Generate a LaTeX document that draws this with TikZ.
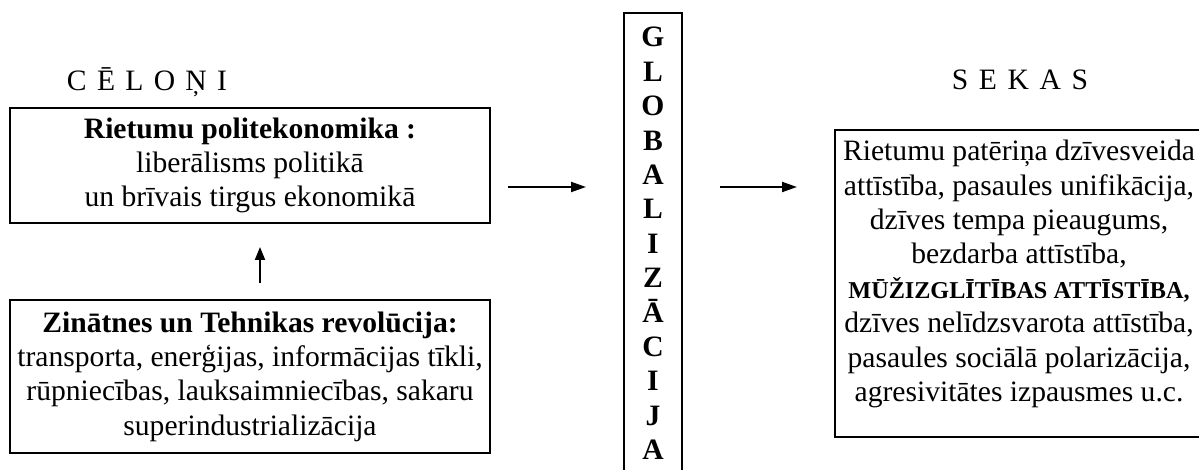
\documentclass[tikz,border=0pt]{standalone}
\usepackage{fontspec}
\setmainfont{Liberation Serif}
\usetikzlibrary{arrows.meta}
\begin{document}
\begin{tikzpicture}[x=0.5pt,y=-0.5pt,
  every node/.style={font=\fontsize{14.8}{17.2}\selectfont, inner sep=0pt},
  frame/.style={draw, line width=1pt},
  title/.style={anchor=base},
  arr/.style={line width=1pt, -{Triangle[length=7.5pt,width=5pt]}},
  uparr/.style={line width=1pt, -{Triangle[length=6.5pt,width=5pt]}},
  vert/.style={align=center, font=\fontsize{14.8}{17.2}\selectfont\bfseries},
  small caps bold/.style={},
]
\useasboundingbox (0,0) rectangle (1199,470);
\clip (0,0) rectangle (1199,470);

% titles
\node[title] (celoni) at (147,91) {C\hspace{5.15pt}Ē\hspace{5.15pt}L\hspace{5.15pt}O\hspace{5.15pt}Ņ\hspace{5.15pt}I};
\node[title] (sekas) at (1020,90) {S\hspace{5.3pt}E\hspace{5.3pt}K\hspace{5.3pt}A\hspace{5.3pt}S};

% left boxes
\node[frame, minimum width=240pt, minimum height=57.5pt, align=center] (pol) at (250,165.5)
  {\textbf{Rietumu politekonomika :}\\ liberālisms politikā\\ un brīvais tirgus ekonomikā};
\node[frame, minimum width=240pt, minimum height=76.5pt, align=center] (zin) at (250,376.5)
  {\textbf{Zinātnes un Tehnikas revolūcija:}\\ transporta, enerģijas, informācijas tīkli,\\ rūpniecības, lauksaimniecības, sakaru\\ superindustrializācija};

% centre column
\node[frame, minimum width=29pt, minimum height=233.5pt] (glob) at (653,246.5) {};
\node[vert] (globtxt) at (653,243.5) {G\\L\\O\\B\\A\\L\\I\\Z\\Ā\\C\\I\\J\\A};

% right box
\node[frame, minimum width=187.5pt, minimum height=153.5pt] (sekbox) at (1022.5,283.5) {};
\node[align=center] (sektxt) at (1019,274)
  {Rietumu patēriņa dzīvesveida\\ attīstība, pasaules unifikācija,\\ dzīves tempa pieaugums,\\ bezdarba attīstība,\\
   {\fontsize{12.1}{17.2}\selectfont\bfseries MŪŽIZGLĪTĪBAS ATTĪSTĪBA,}\\ dzīves nelīdzsvarota attīstība,\\ pasaules sociālā polarizācija,\\ agresivitātes izpausmes u.c.};

% arrows
\coordinate (a1s) at (508,187);
\coordinate (a1e) at (586,187);
\coordinate (a2s) at (720,187);
\coordinate (a2e) at (797,187);
\coordinate (ups) at (260,283);
\coordinate (upe) at (260,247);
\draw[arr] (a1s) -- (a1e);
\draw[arr] (a2s) -- (a2e);
\draw[uparr] (ups) -- (upe);
\end{tikzpicture}
\end{document}
